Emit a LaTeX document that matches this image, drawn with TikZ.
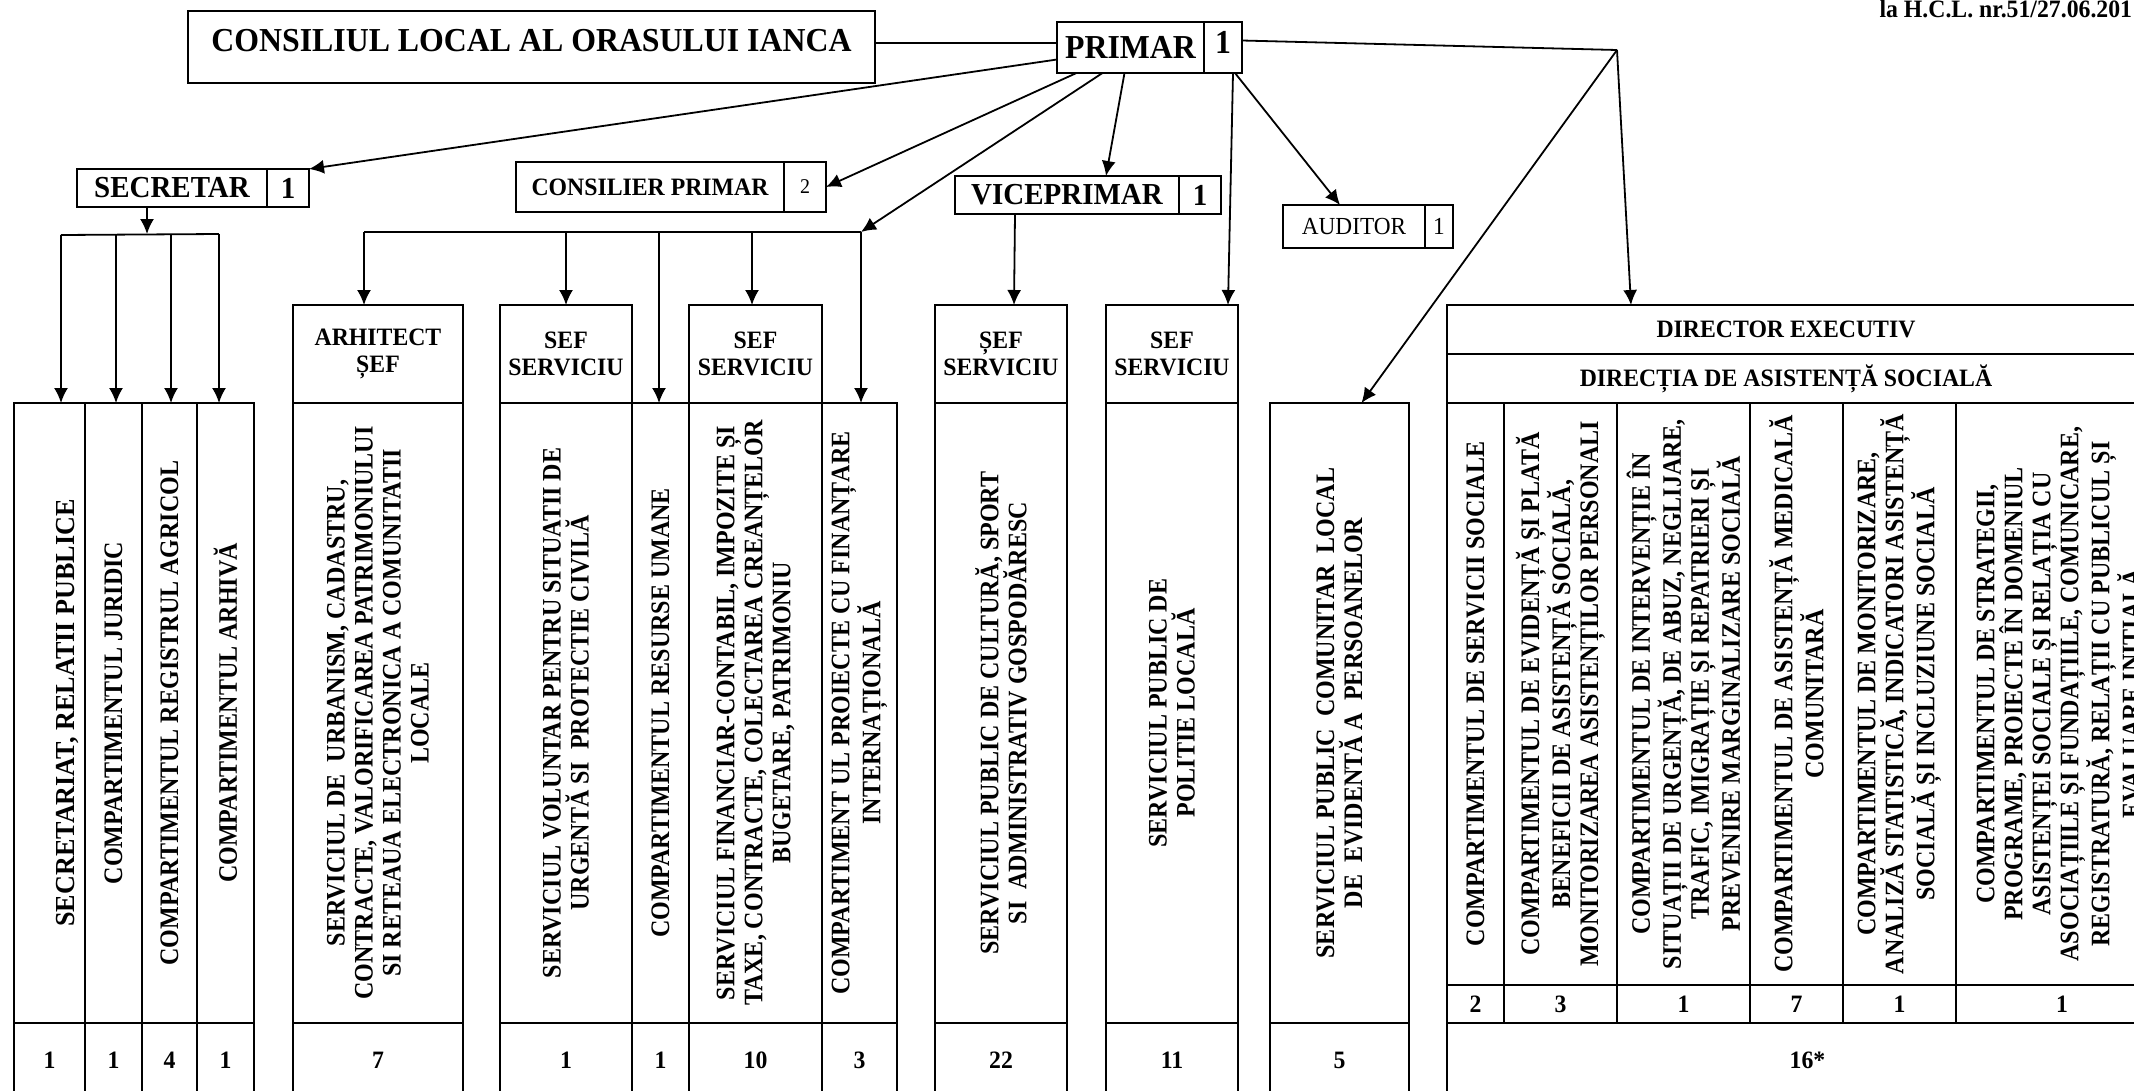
\documentclass[tikz,border=0pt]{standalone}
\usepackage{fontspec}
\setmainfont{Liberation Serif}[FakeStretch=0.95]
\newfontfamily\colfont{Liberation Serif}[FakeStretch=0.9]
\usepackage{tikz}
\usetikzlibrary{positioning,arrows.meta}

\begin{document}
\begin{tikzpicture}[x=1pt,y=-1pt]
\tikzstyle{box}=[rectangle, draw=black, line width=1.5pt, outer sep=0pt, inner sep=0pt, align=center, font=\bfseries\fontsize{25}{27}\selectfont]
\tikzstyle{bigbox}=[box, font=\bfseries\fontsize{33.5}{36}\selectfont]
\tikzstyle{midbox}=[box, font=\bfseries\fontsize{30.5}{33}\selectfont]
\tikzstyle{plainbox}=[box, font=\fontsize{24.5}{27}\selectfont]
\tikzstyle{colbox}=[box, minimum height=620pt]
\tikzstyle{dcolbox}=[box, minimum height=582pt]
\tikzstyle{nrcell}=[box, minimum height=75pt]
\tikzstyle{dnrcell}=[box, minimum height=38pt]
\tikzstyle{vtext}=[rotate=90, align=center, inner sep=0pt, font=\colfont\bfseries\fontsize{26.7}{28}\selectfont]
\tikzstyle{connect}=[-{Latex[length=15pt,width=14pt]}, line width=1.8pt]
\tikzstyle{joinline}=[line width=1.8pt]
\useasboundingbox (0,0) rectangle (2134,1090);
\clip (0,0) rectangle (2134,1090);

  \node[bigbox, minimum width=687pt, minimum height=72pt, text height=22pt, text depth=13pt] (consiliu) at (531.5,47) {CONSILIUL LOCAL AL ORASULUI IANCA};
  \node[bigbox, minimum width=147pt, minimum height=51pt] (primar) at (1130.5,47.5) {PRIMAR};
  \node[bigbox, minimum width=38pt, minimum height=51pt, text depth=11pt, right=0pt of primar] (primarnr) {1};
  \node[anchor=base west, font=\bfseries\fontsize{25}{28}\selectfont] (hcl) at (1876,17) {la H.C.L. nr.51/27.06.201};

  \node[midbox, minimum width=190pt, minimum height=38pt] (secretar) at (172,188) {SECRETAR};
  \node[midbox, minimum width=42pt, minimum height=38pt, right=0pt of secretar] (secretarnr) {1};
  \node[box, minimum width=268pt, minimum height=50pt] (consilier) at (650,187) {CONSILIER PRIMAR};
  \node[plainbox, font=\fontsize{21}{24}\selectfont, minimum width=42pt, minimum height=50pt, right=0pt of consilier] (consiliernr) {2};
  \node[midbox, minimum width=224pt, minimum height=38pt] (vice) at (1067,195) {VICEPRIMAR};
  \node[midbox, minimum width=42pt, minimum height=38pt, right=0pt of vice] (vicenr) {1};
  \node[plainbox, minimum width=142pt, minimum height=43pt] (auditor) at (1354,226.5) {AUDITOR};
  \node[plainbox, minimum width=28pt, minimum height=43pt, right=0pt of auditor] (auditornr) {1};

  \node[box, minimum width=170pt, minimum height=98pt, anchor=north west] (harh) at (293,305) {ARHITECT\\ȘEF};
  \node[box, minimum width=132pt, minimum height=98pt, anchor=north west] (hsef1) at (500,305) {SEF\\SERVICIU};
  \node[box, minimum width=133pt, minimum height=98pt, anchor=north west] (hsef2) at (689,305) {SEF\\SERVICIU};
  \node[box, minimum width=132pt, minimum height=98pt, anchor=north west] (hvice) at (935,305) {ȘEF\\SERVICIU};
  \node[box, minimum width=132pt, minimum height=98pt, anchor=north west] (hpol) at (1106,305) {SEF\\SERVICIU};
  \node[box, minimum width=721pt, minimum height=49pt, anchor=north west] (dirhead) at (1447,305) {};
  \node[box, minimum width=721pt, minimum height=49pt, below=0pt of dirhead] (dirname) {};
  \node[font=\bfseries\fontsize{25}{27}\selectfont] (dirlbl) at (1786,329.5) {DIRECTOR EXECUTIV};
  \node[font=\bfseries\fontsize{25}{27}\selectfont] (dirnamelbl) at (1786,378.5) {DIRECȚIA DE ASISTENȚĂ SOCIALĂ};

  \node[colbox, minimum width=71pt, anchor=north west] (c1) at (14,403) {};
  \node[colbox, minimum width=57pt, right=0pt of c1] (c2) {};
  \node[colbox, minimum width=55pt, right=0pt of c2] (c3) {};
  \node[colbox, minimum width=57pt, right=0pt of c3] (c4) {};
  \node[colbox, minimum width=170pt, below=0pt of harh] (c5) {};
  \node[colbox, minimum width=132pt, below=0pt of hsef1] (c6) {};
  \node[colbox, minimum width=57pt, right=0pt of c6] (c7) {};
  \node[colbox, minimum width=133pt, below=0pt of hsef2] (c8) {};
  \node[colbox, minimum width=75pt, right=0pt of c8] (c9) {};
  \node[colbox, minimum width=132pt, below=0pt of hvice] (c10) {};
  \node[colbox, minimum width=132pt, below=0pt of hpol] (c11) {};
  \node[colbox, minimum width=139pt, anchor=north west] (c12) at (1270,403) {};
  \node[dcolbox, minimum width=57pt, below=0pt of dirname.south west, anchor=north west] (d1) {};
  \node[dcolbox, minimum width=113pt, right=0pt of d1] (d2) {};
  \node[dcolbox, minimum width=133pt, right=0pt of d2] (d3) {};
  \node[dcolbox, minimum width=93pt, right=0pt of d3] (d4) {};
  \node[dcolbox, minimum width=113pt, right=0pt of d4] (d5) {};
  \node[dcolbox, minimum width=212pt, right=0pt of d5] (d6) {};

  \node[vtext, font=\bfseries\fontsize{27.5}{28}\selectfont, yshift=-18pt] (t1) at (c1) {SECRETARIAT, RELATII PUBLICE};
  \node[vtext] (t2) at (c2) {COMPARTIMENTUL JURIDIC};
  \node[vtext] (t3) at (c3) {COMPARTIMENTUL REGISTRUL AGRICOL};
  \node[vtext] (t4) at (c4) {COMPARTIMENTUL ARHIVĂ};
  \node[vtext] (t5) at (c5) {SERVICIUL DE\ \ URBANISM, CADASTRU,\\CONTRACTE, VALORIFICAREA PATRIMONIULUI\\SI RETEAUA ELECTRONICA A COMUNITATII\\LOCALE};
  \node[vtext] (t6) at (c6) {SERVICIUL VOLUNTAR PENTRU SITUATII DE\\URGENTĂ SI\ \ PROTECTIE CIVILĂ};
  \node[vtext] (t7) at (c7) {COMPARTIMENTUL RESURSE UMANE};
  \node[vtext] (t8) at (c8) {SERVICIUL FINANCIAR-CONTABIL, IMPOZITE ȘI\\TAXE, CONTRACTE, COLECTAREA CREANȚELOR\\BUGETARE, PATRIMONIU};
  \node[vtext] (t9) at (c9) {COMPARTIMENT UL PROIECTE CU FINANȚARE\\INTERNAȚIONALĂ};
  \node[vtext] (t10) at (c10) {SERVICIUL PUBLIC DE CULTURĂ, SPORT\\SI\ \ ADMINISTRATIV GOSPODĂRESC};
  \node[vtext] (t11) at (c11) {SERVICIUL PUBLIC DE\\POLITIE LOCALĂ};
  \node[vtext] (t12) at (c12) {SERVICIUL PUBLIC\ \ COMUNITAR\ \ LOCAL\\DE\ \ EVIDENTĂ A\ \ PERSOANELOR};
  \node[vtext] (td1) at (d1) {COMPARTIMENTUL DE SERVICII SOCIALE};
  \node[vtext] (td2) at (d2) {COMPARTIMENTUL DE EVIDENȚĂ ȘI PLATĂ\\BENEFICII DE ASISTENȚĂ SOCIALĂ,\\MONITORIZAREA ASISTENȚILOR PERSONALI};
  \node[vtext] (td3) at (d3) {COMPARTIMENTUL DE INTERVENȚIE ÎN\\SITUAȚII DE URGENȚĂ, DE ABUZ, NEGLIJARE,\\TRAFIC, IMIGRAȚIE ȘI REPATRIERI ȘI\\PREVENIRE MARGINALIZARE SOCIALĂ};
  \node[vtext] (td4) at (d4) {COMPARTIMENTUL DE ASISTENȚĂ MEDICALĂ\\COMUNITARĂ};
  \node[vtext] (td5) at (d5) {COMPARTIMENTUL DE MONITORIZARE,\\ANALIZĂ STATISTICĂ, INDICATORI ASISTENȚĂ\\SOCIALĂ ȘI INCLUZIUNE SOCIALĂ};
  \node[vtext] (td6) at (d6) {COMPARTIMENTUL DE STRATEGII,\\PROGRAME, PROIECTE ÎN DOMENIUL\\ASISTENȚEI SOCIALE ȘI RELAȚIA CU\\ASOCIAȚIILE ȘI FUNDAȚIILE, COMUNICARE,\\REGISTRATURĂ, RELAȚII CU PUBLICUL ȘI\\EVALUARE INIȚIALĂ};

  \node[nrcell, minimum width=71pt, below=0pt of c1] (n1) {1};
  \node[nrcell, minimum width=57pt, below=0pt of c2] (n2) {1};
  \node[nrcell, minimum width=55pt, below=0pt of c3] (n3) {4};
  \node[nrcell, minimum width=57pt, below=0pt of c4] (n4) {1};
  \node[nrcell, minimum width=170pt, below=0pt of c5] (n5) {7};
  \node[nrcell, minimum width=132pt, below=0pt of c6] (n6) {1};
  \node[nrcell, minimum width=57pt, below=0pt of c7] (n7) {1};
  \node[nrcell, minimum width=133pt, below=0pt of c8] (n8) {10};
  \node[nrcell, minimum width=75pt, below=0pt of c9] (n9) {3};
  \node[nrcell, minimum width=132pt, below=0pt of c10] (n10) {22};
  \node[nrcell, minimum width=132pt, below=0pt of c11] (n11) {11};
  \node[nrcell, minimum width=139pt, below=0pt of c12] (n12) {5};
  \node[dnrcell, minimum width=57pt, below=0pt of d1] (dn1) {2};
  \node[dnrcell, minimum width=113pt, below=0pt of d2] (dn2) {3};
  \node[dnrcell, minimum width=133pt, below=0pt of d3] (dn3) {1};
  \node[dnrcell, minimum width=93pt, below=0pt of d4] (dn4) {7};
  \node[dnrcell, minimum width=113pt, below=0pt of d5] (dn5) {1};
  \node[dnrcell, minimum width=212pt, below=0pt of d6] (dn6) {1};
  \node[nrcell, minimum width=721pt, anchor=north west] (dtot) at (dn1.south west) {16*};

  \coordinate (sbm) at (147,234);
  \coordinate (sb1) at (61,235);
  \coordinate (sb2) at (116,234);
  \coordinate (sb3) at (171,234);
  \coordinate (sb4) at (219,234);
  \coordinate (mb1) at (364,232);
  \coordinate (mb2) at (566,232);
  \coordinate (mb3) at (659,232);
  \coordinate (mb4) at (752,232);
  \coordinate (mb5) at (861,232);
  \coordinate (junct) at (1617,50);

  \draw[joinline] ([yshift=4pt]consiliu.east) -- ([yshift=4pt]consiliu.east -| primar.west);
  \draw[joinline] ([yshift=7pt]primarnr.east) -- (junct);
  \draw[joinline] (sb1) -- (sb4);
  \draw[joinline] (mb1) -- (mb5);
  \path ([yshift=-12pt]primar.west) edge [connect] (secretarnr.north east)
        ([xshift=-54pt]primar.south) edge [connect] (consiliernr.east)
        ([xshift=-28pt]primar.south) edge [connect] (mb5)
        ([xshift=-6pt]primar.south) edge [connect] ([xshift=39pt]vice.north)
        ([xshift=10pt]primarnr.south) edge [connect] ([xshift=-10pt]hpol.north east)
        ([xshift=12pt]primarnr.south) edge [connect] ([xshift=-14pt]auditor.north)
        (junct) edge [connect] ([xshift=22pt]c12.north)
        (junct) edge [connect] ([xshift=184pt]dirhead.north west)
        ([xshift=-25pt]secretar.south) edge [connect] (sbm)
        ([xshift=-52pt]vice.south) edge [connect] ([xshift=13pt]hvice.north);
  \path (sb1) edge [connect] (sb1 |- c1.north)
        (sb2) edge [connect] (sb2 |- c2.north)
        (sb3) edge [connect] (sb3 |- c3.north)
        (sb4) edge [connect] (sb4 |- c4.north);
  \path (mb1) edge [connect] (mb1 |- harh.north)
        (mb2) edge [connect] (mb2 |- hsef1.north)
        (mb3) edge [connect] (mb3 |- c7.north)
        (mb4) edge [connect] (mb4 |- hsef2.north)
        (mb5) edge [connect] (mb5 |- c9.north);
\end{tikzpicture}
\end{document}
